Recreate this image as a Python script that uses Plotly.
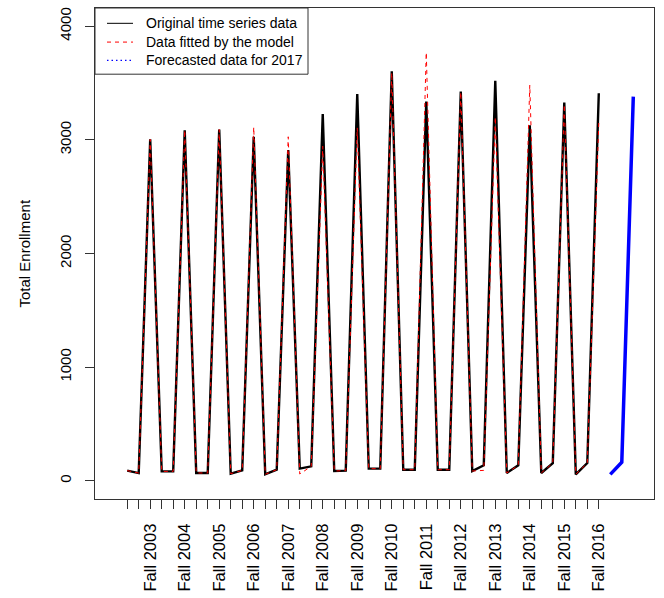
import plotly.graph_objects as go

# ---- data -------------------------------------------------------------
years = list(range(2003, 2017))
terms = ["Spring", "Summer", "Fall"]
term_names = [f"{t} {y}" for y in years for t in terms]
tick_labels = [f"Fall {y}" if t == "Fall" else "" for y in years for t in terms]

actual = [90, 68, 3004, 83, 83, 3085, 69, 69, 3091, 63, 92, 3027,
          57, 98, 2911, 107, 127, 3227, 86, 90, 3404, 107, 107, 3604,
          98, 98, 3337, 98, 98, 3424, 86, 136, 3519, 69, 136, 3128,
          69, 156, 3328, 57, 156, 3410]
fitted = [90, 68, 3004, 83, 83, 3085, 69, 69, 3091, 63, 92, 3111,
          57, 98, 3027, 60, 127, 2943, 86, 90, 3105, 107, 107, 3590,
          98, 98, 3769, 98, 98, 3420, 86, 92, 3201, 69, 136, 3482,
          69, 156, 3310, 57, 156, 3150]
forecast_terms = ["Spring 2017", "Summer 2017", "Fall 2017"]
forecast = [57, 164, 3380]

legend_labels = ["Original time series data", "Data fitted by the model",
                 "Forecasted data for 2017"]
y_ticks = [0, 1000, 2000, 3000, 4000]

x_hist = list(range(len(actual)))
x_fc = list(range(len(actual), len(actual) + len(forecast)))

FONT = "Liberation Sans, Arial, sans-serif"

fig = go.Figure()
fig.add_trace(go.Scatter(x=x_hist, y=actual, mode="lines", text=term_names,
                         line=dict(color="black", width=2.4), showlegend=False))
fig.add_trace(go.Scatter(x=x_hist, y=fitted, mode="lines", text=term_names,
                         line=dict(color="#ff0000", width=1, dash="4px,4px"),
                         showlegend=False))
fig.add_trace(go.Scatter(x=x_fc, y=forecast, mode="lines", text=forecast_terms,
                         line=dict(color="#0000ff", width=3.5), showlegend=False))

# ---- manual legend (R-style box) ----------------------------------------
W, H = 559.0, 497.0
lx0, lx1 = 0.0, (308 - 95) / W
ly1, ly0 = 1.0, 1 - (74 - 7) / H
fig.add_shape(type="rect", xref="paper", yref="paper", x0=lx0, x1=lx1, y0=ly0, y1=ly1,
              line=dict(color="#333333", width=1), fillcolor="white", layer="above")
rows = [1 - 15.5 / H, 1 - 34.5 / H, 1 - 53 / H]
styles = [dict(color="black", width=1, dash="solid"),
          dict(color="#ff0000", width=1, dash="4px,4px"),
          dict(color="#0000ff", width=1.3, dash="1.5px,3px")]
for ry, st, lab in zip(rows, styles, legend_labels):
    fig.add_shape(type="line", xref="paper", yref="paper",
                  x0=12 / W, x1=38 / W, y0=ry, y1=ry, line=st, layer="above")
    fig.add_annotation(xref="paper", yref="paper", x=49 / W, y=ry, text=lab,
                       showarrow=False, xanchor="left", yanchor="middle",
                       font=dict(family=FONT, size=14, color="black"))

# y-axis title
fig.add_annotation(xref="paper", yref="paper", x=(24 - 95) / W, y=0.5,
                   text="Total Enrollment", textangle=-90, showarrow=False,
                   xanchor="center", yanchor="middle",
                   font=dict(family=FONT, size=15, color="black"))

fig.update_layout(
    width=664, height=598,
    margin=dict(l=95, r=10, t=7, b=94),
    paper_bgcolor="white", plot_bgcolor="white",
    font=dict(family=FONT, size=15, color="black"),
    showlegend=False,
)
fig.update_xaxes(
    range=[-2.8, 45.8], tickmode="array", tickvals=x_hist, ticktext=tick_labels,
    tickangle=-90, ticks="outside", ticklen=9, tickcolor="#333333", tickwidth=1,
    showgrid=False, zeroline=False, showline=True, mirror=True,
    linecolor="#333333", linewidth=1, ticklabelstandoff=8,
    tickfont=dict(family=FONT, size=16.5, color="black"),
)
fig.update_yaxes(
    range=[-160, 4160], tickmode="array", tickvals=y_ticks,
    ticktext=[str(v) for v in y_ticks],
    tickangle=-90, ticks="outside", ticklen=9, tickcolor="#333333", tickwidth=1,
    showgrid=False, zeroline=False, showline=True, mirror=True,
    linecolor="#333333", linewidth=1, ticklabelstandoff=8,
    tickfont=dict(family=FONT, size=15, color="black"),
)

fig.write_html("out.html", config={"displayModeBar": False},
               post_script="document.body.style.margin='0px';"
                           "document.body.style.overflow='hidden';")
